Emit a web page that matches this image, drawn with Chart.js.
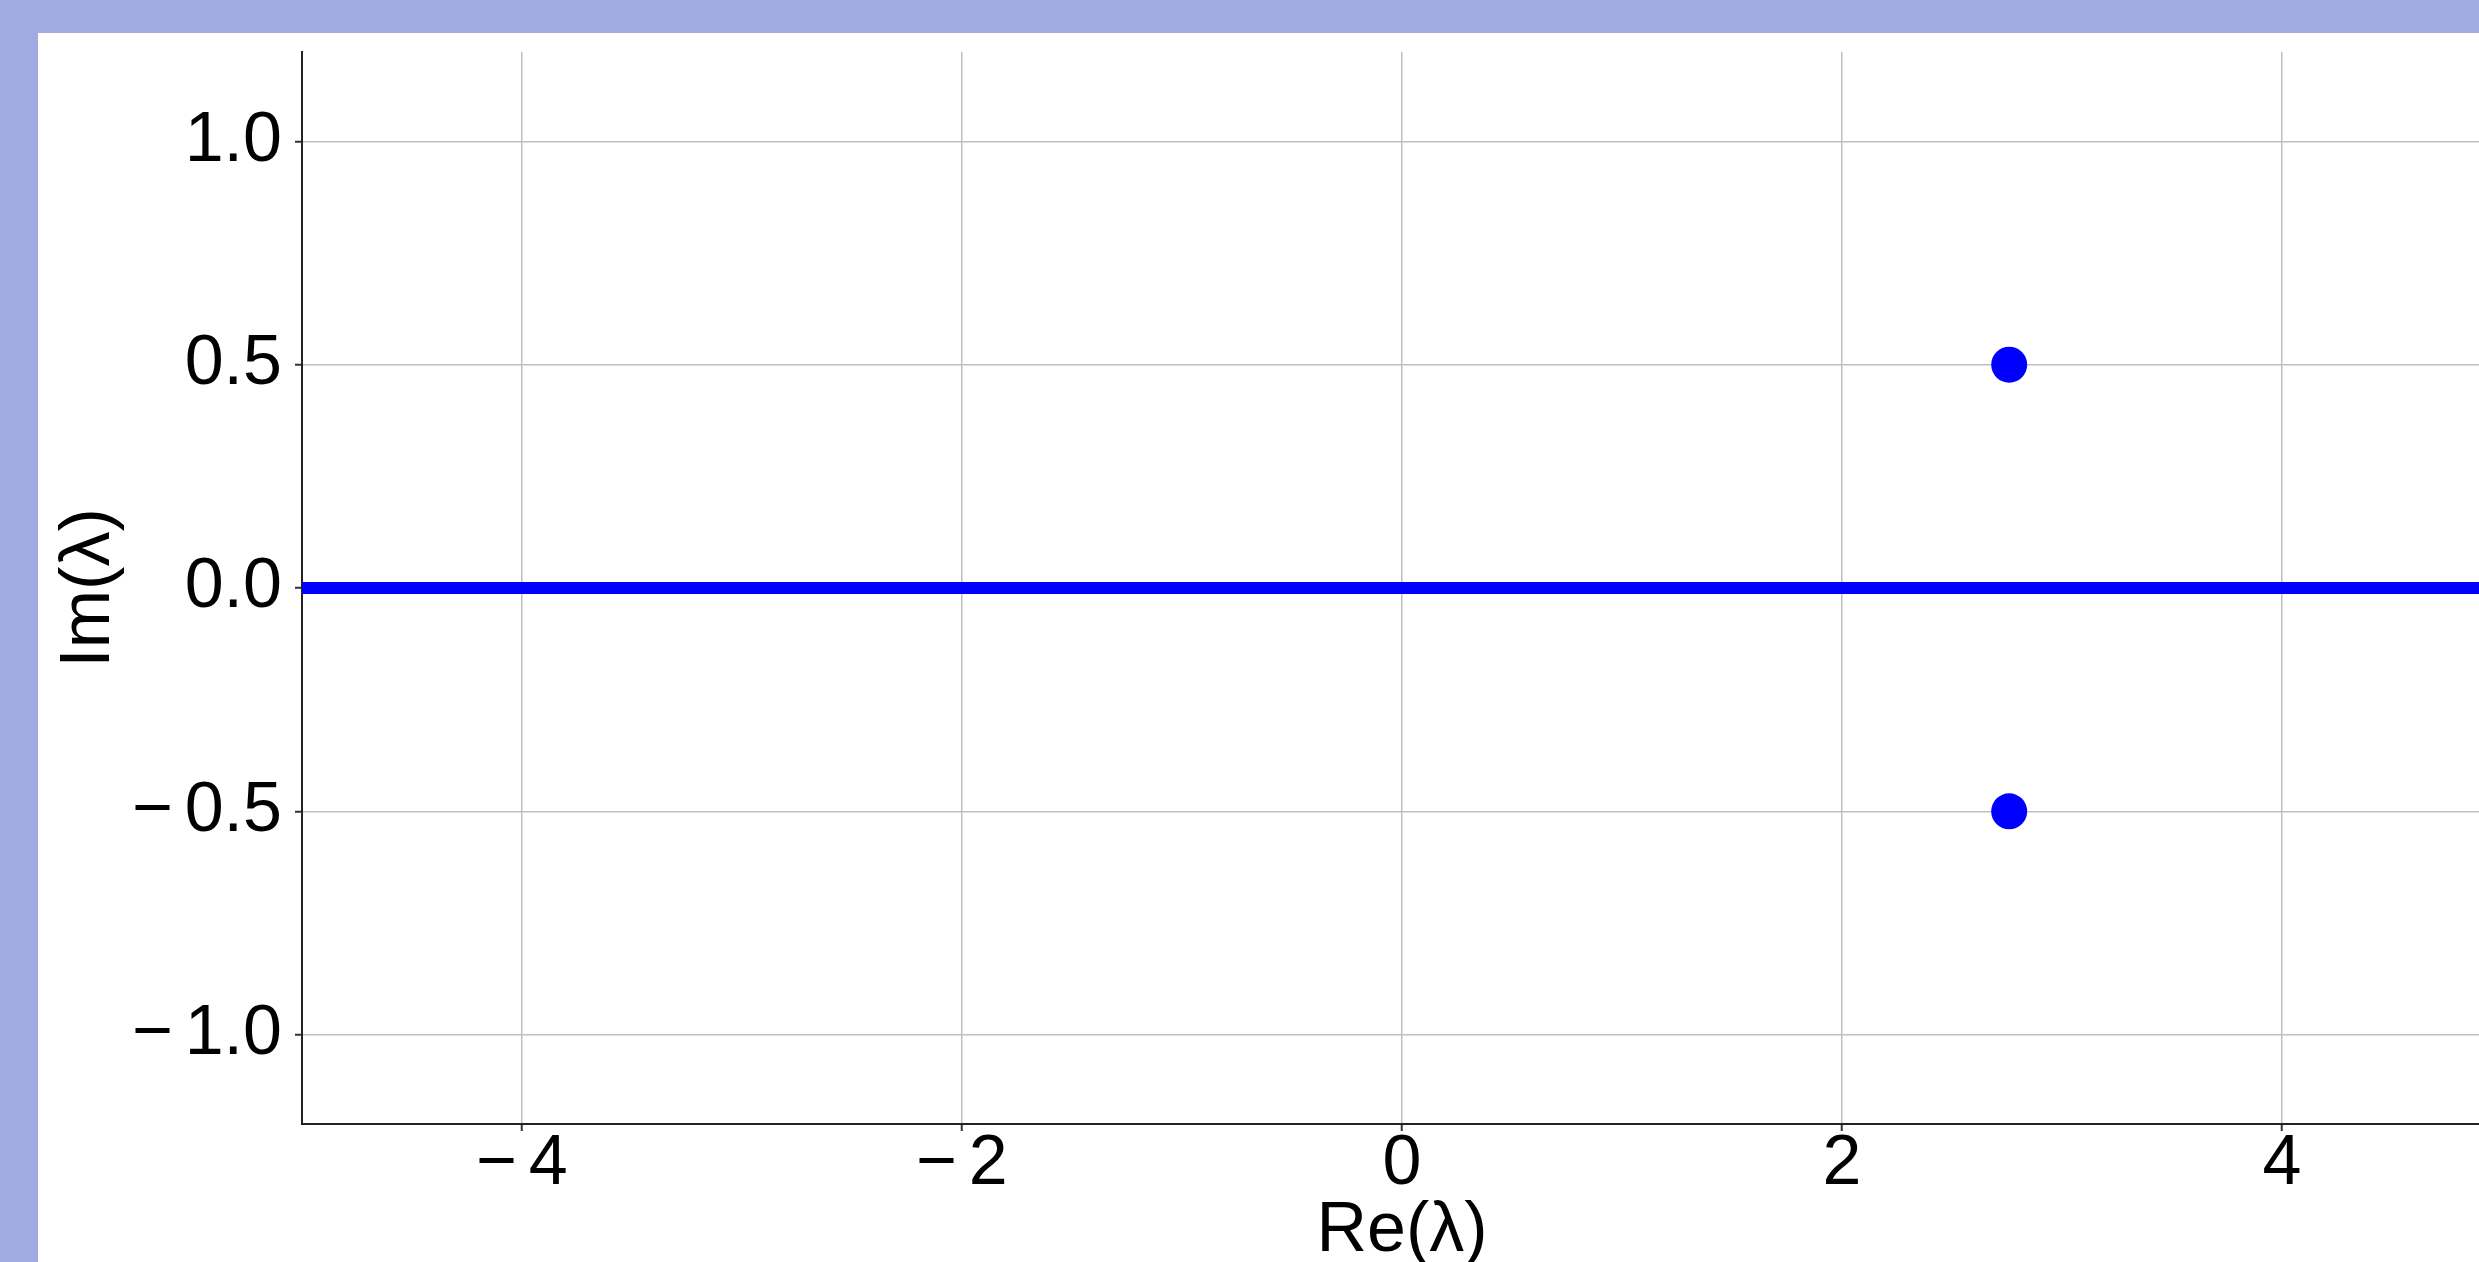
<!DOCTYPE html>
<html>
<head>
<meta charset="utf-8">
<script src="https://cdn.jsdelivr.net/npm/chart.js@4"></script>
<style>
  html, body { margin: 0; padding: 0; }
  body { width: 2479px; height: 1262px; background: #a2aae2; overflow: hidden; position: relative; }
  /* plot runs on past the right edge of the window, as in the cropped original */
  #panel { position: absolute; left: 38px; top: 33px; width: 2464px; height: 1229px; background: #fff; }
  canvas { display: block; }
</style>
</head>
<body>
<div id="panel"><canvas id="spectrum" width="2464" height="1229"></canvas></div>
<script>
// continuous spectrum along the real axis (drawn as a thick segment)
const realRe = [-5, 5];
const realIm = [0, 0];
// isolated complex eigenvalues
const pointRe = [2.76, 2.76];
const pointIm = [0.5, -0.5];

const xTicks = [-4, -2, 0, 2, 4];
const yTicks = [-1.0, -0.5, 0.0, 0.5, 1.0];

const fmt = (v, dec) => {
    const s = Math.abs(v).toFixed(dec);
    return v < 0 ? '\u2212\u2006' + s : s;
};

const font = { family: "'Liberation Sans', Arial, sans-serif", size: 70 };
const gridColor = '#bfbfbf';

// drop the half-label paddings chart.js adds round the plot area
const noPad = axis => {
    axis.paddingTop = 0;
    axis.paddingBottom = 0;
    axis.paddingLeft = 0;
    axis.paddingRight = 0;
};

const ctx = document.getElementById('spectrum').getContext('2d');
new Chart(ctx, {
    type: 'scatter',
    data: {
        datasets: [
            {
                label: 'continuous',
                data: realRe.map((x, i) => ({ x: x, y: realIm[i] })),
                showLine: true,
                borderColor: '#0000ff',
                borderWidth: 12,
                pointRadius: 0,
                order: 2
            },
            {
                label: 'discrete',
                data: pointRe.map((x, i) => ({ x: x, y: pointIm[i] })),
                backgroundColor: '#0000ff',
                borderWidth: 0,
                pointRadius: 18,
                order: 1
            }
        ]
    },
    options: {
        responsive: false,
        animation: false,
        devicePixelRatio: 1,
        layout: { autoPadding: false, padding: { top: 19, right: 0, bottom: 0, left: 0 } },
        plugins: {
            legend: { display: false },
            tooltip: { enabled: false }
        },
        scales: {
            x: {
                type: 'linear',
                min: -5,
                max: 5,
                afterBuildTicks: axis => { axis.ticks = xTicks.map(v => ({ value: v })); },
                afterFit: axis => { axis.height = 138; noPad(axis); },
                ticks: {
                    color: '#000',
                    font: font,
                    padding: -8,
                    maxRotation: 0,
                    callback: v => fmt(v, 0)
                },
                grid: { color: gridColor, lineWidth: 1.5, tickLength: 7, tickColor: '#333', tickWidth: 2 },
                border: { color: '#222', width: 2 },
                title: {
                    display: true,
                    text: 'Re(\u03bb)',
                    color: '#000',
                    font: { family: font.family, size: 70, lineHeight: 1 },
                    padding: { top: 0, bottom: -5 }
                }
            },
            y: {
                type: 'linear',
                min: -1.2,
                max: 1.2,
                afterBuildTicks: axis => { axis.ticks = yTicks.map(v => ({ value: v })); },
                afterFit: axis => { axis.width = 264; noPad(axis); },
                ticks: {
                    color: '#000',
                    font: font,
                    padding: 13,
                    callback: v => fmt(v, 1)
                },
                grid: { color: gridColor, lineWidth: 1.5, tickLength: 7, tickColor: '#333', tickWidth: 2 },
                border: { color: '#222', width: 2 },
                title: {
                    display: true,
                    text: 'Im(\u03bb)',
                    color: '#000',
                    font: { family: font.family, size: 70, lineHeight: 1 },
                    padding: { top: 17, bottom: 0 }
                }
            }
        }
    }
});
</script>
</body>
</html>
